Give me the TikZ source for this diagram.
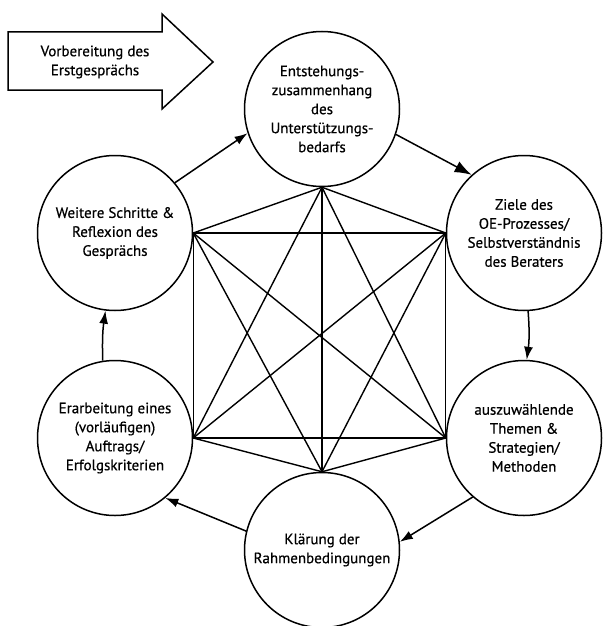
\documentclass[tikz,border=0pt]{standalone}
\usepackage{fontspec}
\setmainfont{PT Sans}[FakeBold=0.6]
\usetikzlibrary{arrows.meta}
\begin{document}
\begin{tikzpicture}[x=1pt,y=-1pt,
  line width=1.5pt,
  phase/.style={draw, circle, minimum size=155pt, inner sep=0pt, align=center,
    font=\fontsize{15}{19}\selectfont},
  flow/.style={-{Latex[length=13pt,width=9pt]}},
  flowbig/.style={-{Latex[length=17pt,width=12pt]}},
  mesh/.style={line width=1.4pt}]
\useasboundingbox (0,0) rectangle (602,626);

% Einstiegspfeil
\draw (8,32) -- (162,32) -- (162,14) -- (213,62) -- (162,109) -- (162,90) -- (8,90) -- cycle;
\node[align=center, font=\fontsize{15}{19}\selectfont] (prep) at (95,62)
  {Vorbereitung des\\Erstgesprächs};

% Phasen des Erstgesprächs
\node[phase] (top) at (322,109) {Entstehungs-\\zusammenhang\\des\\Unterstützungs-\\bedarfs};
\node[phase] (ur) at (524,233) {Ziele des\\OE-Prozesses/\\Selbstverständnis\\des Beraters};
\node[phase] (lr) at (524,438) {auszuwählende\\Themen \&\\Strategien/\\Methoden};
\node[phase] (bot) at (322,550) {Klärung der\\Rahmenbedingungen};
\node[phase] (ll) at (115,438) {Erarbeitung eines\\(vorläufigen)\\Auftrags/\\Erfolgskriterien};
\node[phase] (ul) at (115,233) {Weitere Schritte \&\\Reflexion des\\Gesprächs};

% Verbindungen zwischen allen Phasen
\foreach \a/\b in {top.south/ur.west, top.south/lr.west, top.south/bot.north,
                   top.south/ll.east, top.south/ul.east,
                   ur.west/lr.west, ur.west/bot.north, ur.west/ll.east, ur.west/ul.east,
                   lr.west/bot.north, lr.west/ll.east, lr.west/ul.east,
                   bot.north/ll.east, bot.north/ul.east,
                   ll.east/ul.east}
  \draw[mesh] (\a) -- (\b);

% Ablauf im Uhrzeigersinn
\draw[flow] (ul.40) -- (top.198);
\draw[flowbig] (top.-19) -- (ur.132);
\draw[flow] (ur.273) to[bend left=6] (lr.88);
\draw[flow] (lr.229) -- (bot.6);
\draw[flow] (bot.166) -- (ll.310);
\draw[flow] (ll.99) to[bend left=5] (ul.263);
\end{tikzpicture}
\end{document}
